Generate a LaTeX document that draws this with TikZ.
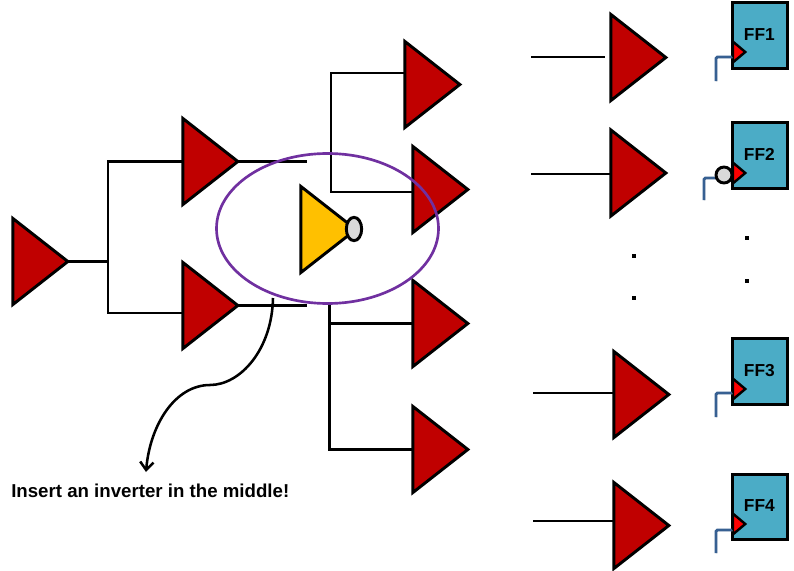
\documentclass[tikz,border=0pt]{standalone}
\usepackage{fontspec}
\setmainfont{Liberation Sans}
\usetikzlibrary{arrows.meta, positioning, shapes.geometric}
\definecolor{bufred}{HTML}{C00000}
\definecolor{invgold}{HTML}{FFC000}
\definecolor{ffblue}{HTML}{4BACC6}
\definecolor{ringpurple}{HTML}{7030A0}
\definecolor{clkblue}{HTML}{376092}
\tikzset{
    buf/.style={draw, line width=2.2pt, fill=bufred, shape=isosceles triangle,
                isosceles triangle stretches, shape border rotate=0, anchor=west, xshift=0.7pt,
                minimum height=41.2pt, minimum width=64.5pt, inner sep=0pt, outer sep=0pt},
    wire/.style={line width=2.2pt, line cap=rect},
    ffbox/.style={draw, line width=2.2pt, fill=ffblue, minimum width=41pt, minimum height=49pt,
                  inner sep=0pt, outer sep=0pt, font=\fontsize{13}{13}\selectfont\bfseries},
    clktri/.style={draw, line width=1.8pt, fill=red, shape=isosceles triangle,
                   isosceles triangle stretches, shape border rotate=0, anchor=west,
                   minimum height=9.2pt, minimum width=15.5pt, inner sep=0pt, outer sep=0pt},
    clkwire/.style={line width=2.1pt, draw=clkblue, rounded corners=1pt,
                    preaction={draw=black!20, transform canvas={xshift=0.6pt, yshift=-0.6pt}}},
    bubble/.style={draw, line width=2.2pt, fill=black!15, shape=ellipse, inner sep=0pt, outer sep=0pt},
    dotmark/.style={fill=black, minimum size=3.2pt, inner sep=0pt, outer sep=0pt}
}
\begin{document}
\begin{tikzpicture}[x=0.75pt, y=-0.75pt]
    \useasboundingbox (0,0) rectangle (794,571);

    % Junctions of the left tree
    \coordinate (j0) at (108,261.5);
    \coordinate (j1) at (108,161.5);
    \coordinate (j2) at (108,313);
    \coordinate (endA) at (306,161.5);
    \coordinate (endB) at (306,305.5);
    \coordinate (j3) at (331,73);
    \coordinate (j4) at (331,192);
    \coordinate (j5) at (329.5,305.5);
    \coordinate (j6) at (329.5,323.5);
    \coordinate (j7) at (329.5,449.5);

    % Wires go under the buffers
    \draw[wire] (j1) -- (j2);
    \draw[wire] (j3) -- (j4);
    \draw[wire] (j5) -- (j7);

    % Buffer tree
    \node[buf] (root) at (12,261.5) {};
    \node[buf] (bufA) at (182,161.5) {};
    \node[buf] (bufB) at (182,305.5) {};
    \node[buf] (bufC) at (404,84.5) {};
    \node[buf] (bufD) at (412,189.5) {};
    \node[buf] (bufE) at (412,323.5) {};
    \node[buf] (bufF) at (412,449.5) {};

    \draw[wire] (root.apex) -- (j0);
    \draw[wire] (j1) -- (bufA.west);
    \draw[wire] (j2) -- (j2 -| bufB.west);
    \draw[wire] (bufA.apex) -- (endA);
    \draw[wire] (bufB.apex) -- (endB);
    \draw[wire] (j3) -- (j3 -| bufC.west);
    \draw[wire] (j4) -- (j4 -| bufD.west);
    \draw[wire] (j6) -- (bufE.west);
    \draw[wire] (j7) -- (bufF.west);

    % Right column of buffers
    \node[buf] (bufG) at (610,57.5) {};
    \node[buf] (bufH) at (610,173) {};
    \node[buf] (bufI) at (613,394.5) {};
    \node[buf] (bufJ) at (613,525.5) {};

    \coordinate (inG) at (531,57);
    \coordinate (stopG) at (605,57);
    \coordinate (inH) at (531,174);
    \coordinate (inI) at (533,393);
    \coordinate (inJ) at (533,521);
    \draw[line width=2.2pt] (inG) -- (stopG);
    \draw[line width=2.2pt] (inH) -- (inH -| bufH.west);
    \draw[line width=2.2pt] (inI) -- (inI -| bufI.west);
    \draw[line width=2.2pt] (inJ) -- (inJ -| bufJ.west);

    % Inverter and the ring round it
    \node[buf, fill=invgold] (inv) at (300,229.5) {};
    \node[bubble, minimum width=11.5pt, minimum height=17.5pt] (invdot) at (354,229) {};
    \node[draw=ringpurple, line width=2pt, shape=ellipse, minimum width=166.5pt, minimum height=112.5pt,
          inner sep=0pt, outer sep=0pt] (ring) at (327.5,228.5) {};

    % Flip-flops
    \node[ffbox] (ff1) at (760,35.5) {\raisebox{1.5pt}{FF1\hspace{1pt}}};
    \node[ffbox] (ff2) at (760,155.5) {\raisebox{1.5pt}{FF2\hspace{1pt}}};
    \node[ffbox] (ff3) at (760,371.5) {\raisebox{1.5pt}{FF3\hspace{1pt}}};
    \node[ffbox] (ff4) at (760,507) {\raisebox{1.5pt}{FF4\hspace{1pt}}};

    \node[clktri] (clk1) at (733,52) {};
    \node[clktri] (clk2) at (733,173) {};
    \node[clktri] (clk3) at (733,389) {};
    \node[clktri] (clk4) at (733,524) {};

    \coordinate (ck1) at (716,81);
    \coordinate (ck2) at (704,200);
    \coordinate (ck3) at (716,417);
    \coordinate (ck4) at (716,553);
    \coordinate (in1) at (732,57);
    \coordinate (in2) at (718,178);
    \coordinate (in3) at (732,393);
    \coordinate (in4) at (732,530);
    \draw[clkwire] (ck1) |- (in1);
    \draw[clkwire] (ck2) |- (in2);
    \draw[clkwire] (ck3) |- (in3);
    \draw[clkwire] (ck4) |- (in4);
    \node[bubble, minimum size=12pt] (clkdot) at (724,175) {};

    % Dots
    \node[dotmark] (dotA) at (634,256) {};
    \node[dotmark] (dotB) at (634,298) {};
    \node[dotmark] (dotC) at (747,238) {};
    \node[dotmark] (dotD) at (747,281) {};

    % Note
    \node[font=\fontsize{14}{14}\selectfont\bfseries, inner sep=0pt, anchor=west] (note) at (11,491) {Insert an inverter in the middle!};
    \coordinate (noteStart) at (273,298);
    \coordinate (noteEnd) at (146,472);
    \draw[line width=1.9pt, -{Straight Barb[length=6pt,width=10pt]}] (noteStart)
        .. controls (272,350) and (240,385) .. (210,385)
        .. controls (175,385) and (150,425) .. (noteEnd);
\end{tikzpicture}
\end{document}
